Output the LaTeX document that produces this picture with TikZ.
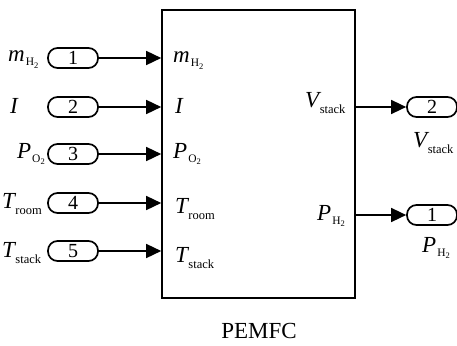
\documentclass[tikz,border=0pt]{standalone}
\usepackage{fontspec}
\setmainfont{Liberation Serif}
\usetikzlibrary{arrows.meta,positioning,calc}

\newcommand{\wordsub}[1]{\kern0.5pt\raisebox{-6.5pt}{\fontsize{12.5}{13}\selectfont\upshape #1}}
\newcommand{\gassub}[1]{\kern1pt\raisebox{-4pt}{\fontsize{11.5}{12}\selectfont\upshape #1\raisebox{-2pt}{\fontsize{8.5}{9}\selectfont 2}}}

\begin{document}
\begin{tikzpicture}[x=1pt,y=-1pt,>={Triangle[length=15pt,width=14pt]},
  port/.style={draw,line width=1.7pt,rounded corners=9.5pt,minimum width=50pt,minimum height=20pt,inner sep=0pt,font=\fontsize{20}{20}\selectfont},
  sig/.style={->,line width=1.5pt},
  lbl/.style={anchor=base west,inner sep=0pt,font=\fontsize{23}{23}\selectfont\itshape}]
\useasboundingbox (0,0) rectangle (457,345);
% block
\node[draw,line width=1.6pt,minimum width=193pt,minimum height=288pt,inner sep=0pt] (pemfc) at (258.5,154) {};
\node[anchor=base,inner sep=0pt,font=\fontsize{23}{23}\selectfont] (name) at (259,338) {PEMFC};
% inports
\node[port] (in1) at (73,58) {1};
\node[port] (in2) at (73,107) {2};
\node[port] (in3) at (73,154) {3};
\node[port] (in4) at (73,203) {4};
\node[port] (in5) at (73,251) {5};
% outports
\node[port] (out2) at (432,107) {2};
\node[port] (out1) at (432,215) {1};
% signals
\draw[sig] (in1.east) -- (pemfc.west |- in1);
\draw[sig] (in2.east) -- (pemfc.west |- in2);
\draw[sig] (in3.east) -- (pemfc.west |- in3);
\draw[sig] (in4.east) -- (pemfc.west |- in4);
\draw[sig] (in5.east) -- (pemfc.west |- in5);
\draw[sig] (pemfc.east |- out2) -- (out2.west);
\draw[sig] (pemfc.east |- out1) -- (out1.west);
% port names
\node[lbl] (nin1) at (8,62) {m\gassub{H}};
\node[lbl] (nin2) at (10,113) {I};
\node[lbl] (nin3) at (17,158) {P\gassub{O}};
\node[lbl] (nin4) at (2,208) {T\wordsub{room}};
\node[lbl] (nin5) at (2,257) {T\wordsub{stack}};
\node[lbl] (nout2) at (413,147) {V\wordsub{stack}};
\node[lbl] (nout1) at (422,252) {P\gassub{H}};
% block port names
\node[lbl] (pin1) at (173,63) {m\gassub{H}};
\node[lbl] (pin2) at (175,113) {I};
\node[lbl] (pin3) at (173,158) {P\gassub{O}};
\node[lbl] (pin4) at (175,213) {T\wordsub{room}};
\node[lbl] (pin5) at (175,262) {T\wordsub{stack}};
\node[lbl] (pout2) at (305,107) {V\wordsub{stack}};
\node[lbl] (pout1) at (317,220) {P\gassub{H}};
\end{tikzpicture}
\end{document}
